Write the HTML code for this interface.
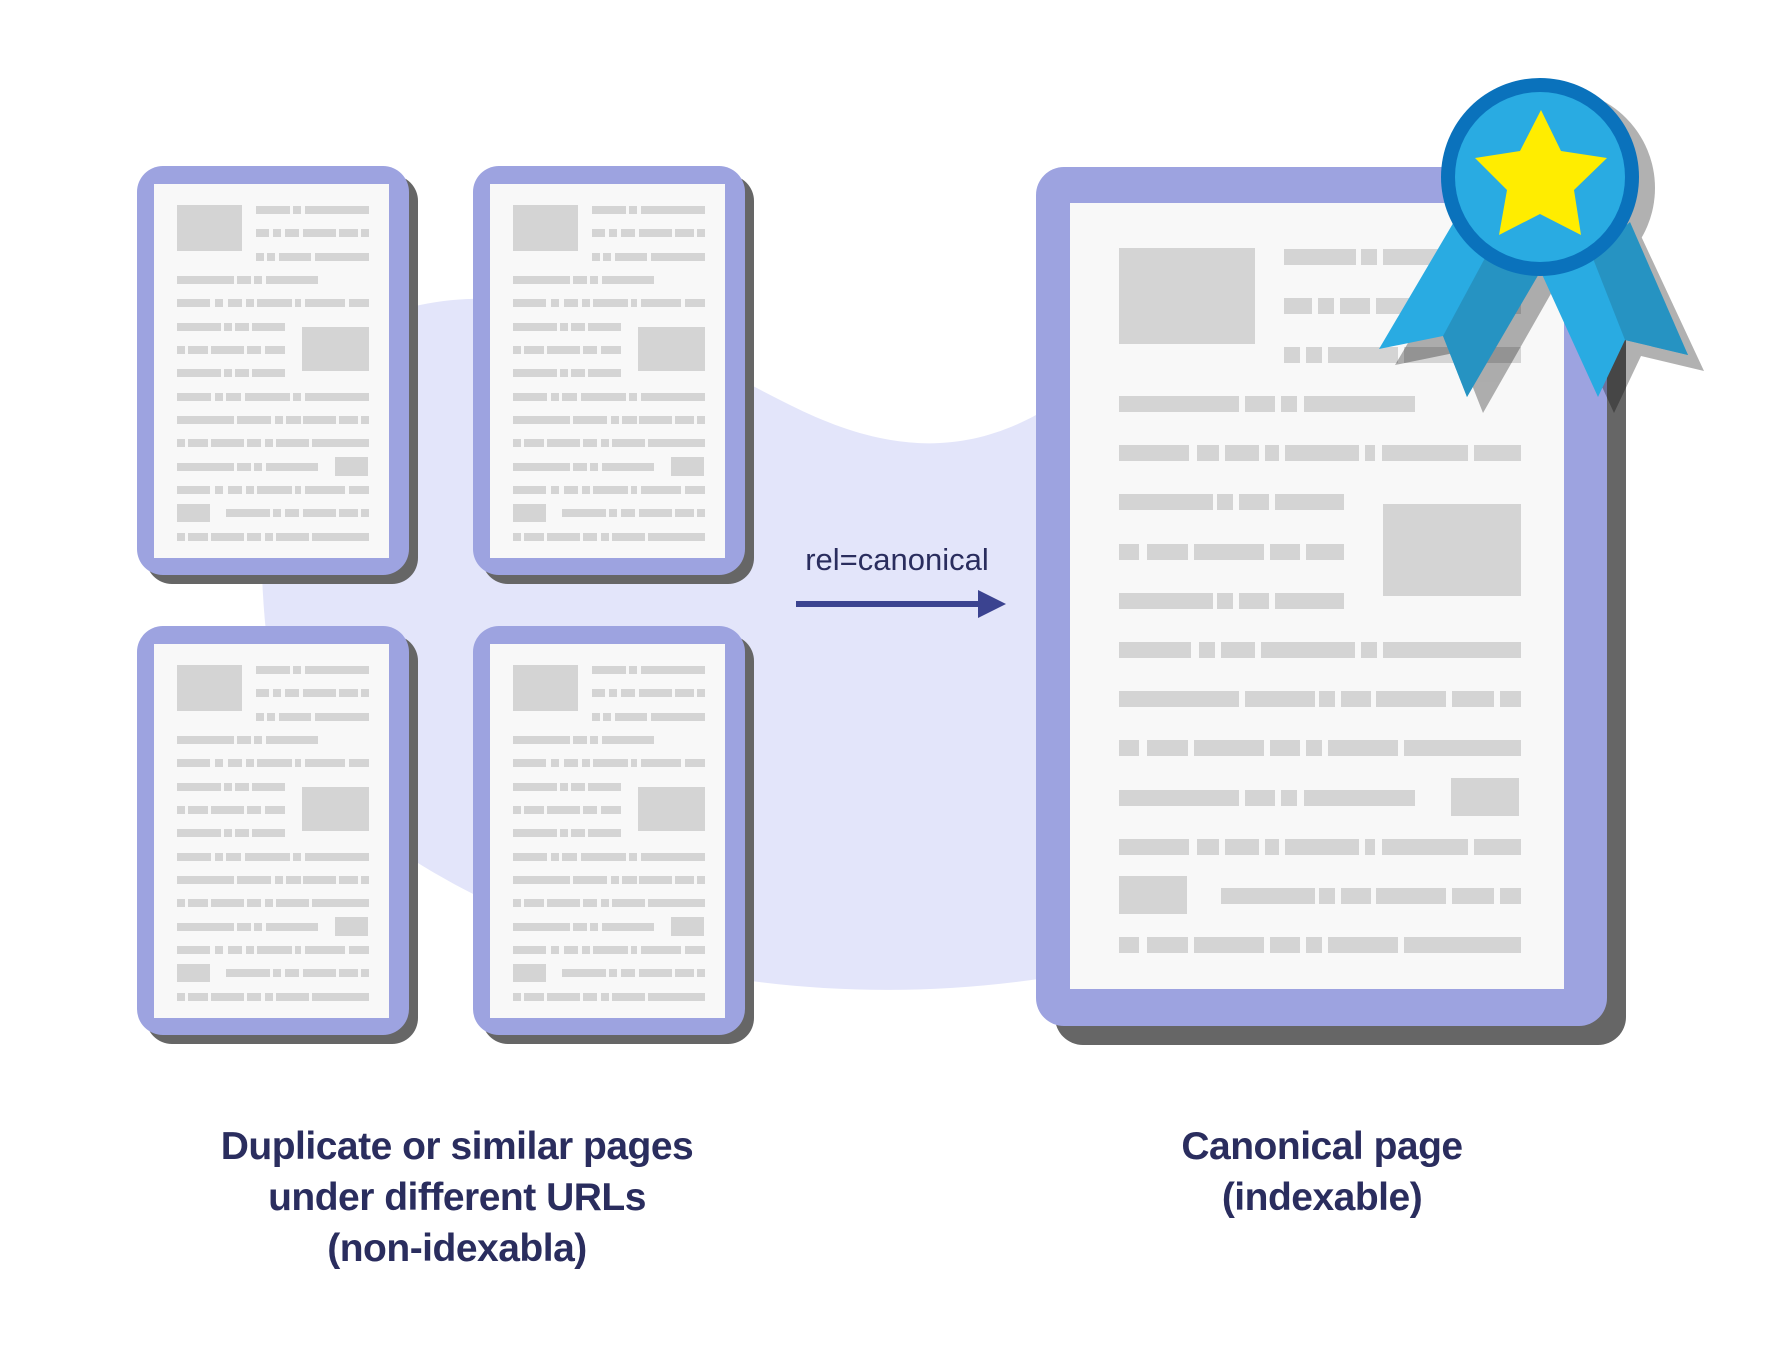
<!DOCTYPE html>
<html><head><meta charset="utf-8"><style>
html,body{margin:0;padding:0;background:#fff;}
svg{display:block;}
</style></head><body>
<svg width="1780" height="1371" viewBox="0 0 1780 1371" xmlns="http://www.w3.org/2000/svg">
<defs>
<g id="sp">
  <rect x="9" y="9" width="272" height="409" rx="26" fill="#666"/>
  <rect x="0" y="0" width="272" height="409" rx="26" fill="#9da3e0"/>
  <rect x="17" y="18" width="235" height="374" fill="#f8f8f8"/>
  <g fill="#d4d4d4">
    <rect x="40" y="39" width="65" height="46"/>
    <rect x="165" y="161" width="67" height="44"/>
    <rect x="198" y="291" width="33" height="19"/>
    <rect x="40" y="338" width="33" height="18"/>
    <rect x="119" y="40" width="34" height="8"/><rect x="156" y="40" width="8" height="8"/><rect x="168" y="40" width="64" height="8"/>
    <rect x="119" y="63" width="13" height="8"/><rect x="136" y="63" width="8" height="8"/><rect x="148" y="63" width="14" height="8"/><rect x="166" y="63" width="33" height="8"/><rect x="202" y="63" width="19" height="8"/><rect x="224" y="63" width="8" height="8"/>
    <rect x="119" y="87" width="8" height="8"/><rect x="130" y="87" width="8" height="8"/><rect x="142" y="87" width="32" height="8"/><rect x="178" y="87" width="54" height="8"/>
    <rect x="40" y="110" width="57" height="8"/><rect x="100" y="110" width="14" height="8"/><rect x="117" y="110" width="8" height="8"/><rect x="129" y="110" width="52" height="8"/>
    <rect x="40" y="133" width="33" height="8"/><rect x="78" y="133" width="8" height="8"/><rect x="91" y="133" width="14" height="8"/><rect x="109" y="133" width="8" height="8"/><rect x="120" y="133" width="35" height="8"/><rect x="158" y="133" width="6" height="8"/><rect x="168" y="133" width="40" height="8"/><rect x="212" y="133" width="20" height="8"/>
    <rect x="40" y="157" width="44" height="8"/><rect x="87" y="157" width="8" height="8"/><rect x="98" y="157" width="14" height="8"/><rect x="115" y="157" width="33" height="8"/>
    <rect x="40" y="180" width="8" height="8"/><rect x="51" y="180" width="20" height="8"/><rect x="74" y="180" width="33" height="8"/><rect x="110" y="180" width="14" height="8"/><rect x="128" y="180" width="20" height="8"/>
    <rect x="40" y="203" width="44" height="8"/><rect x="87" y="203" width="8" height="8"/><rect x="98" y="203" width="14" height="8"/><rect x="115" y="203" width="33" height="8"/>
    <rect x="40" y="227" width="34" height="8"/><rect x="78" y="227" width="8" height="8"/><rect x="89" y="227" width="15" height="8"/><rect x="108" y="227" width="45" height="8"/><rect x="156" y="227" width="8" height="8"/><rect x="168" y="227" width="64" height="8"/>
    <rect x="40" y="250" width="57" height="8"/><rect x="100" y="250" width="34" height="8"/><rect x="138" y="250" width="8" height="8"/><rect x="149" y="250" width="15" height="8"/><rect x="166" y="250" width="33" height="8"/><rect x="202" y="250" width="19" height="8"/><rect x="224" y="250" width="8" height="8"/>
    <rect x="40" y="273" width="8" height="8"/><rect x="51" y="273" width="20" height="8"/><rect x="74" y="273" width="33" height="8"/><rect x="110" y="273" width="14" height="8"/><rect x="128" y="273" width="8" height="8"/><rect x="139" y="273" width="33" height="8"/><rect x="175" y="273" width="57" height="8"/>
    <rect x="40" y="297" width="57" height="8"/><rect x="100" y="297" width="14" height="8"/><rect x="117" y="297" width="8" height="8"/><rect x="129" y="297" width="52" height="8"/>
    <rect x="40" y="320" width="33" height="8"/><rect x="78" y="320" width="8" height="8"/><rect x="91" y="320" width="14" height="8"/><rect x="109" y="320" width="8" height="8"/><rect x="120" y="320" width="35" height="8"/><rect x="158" y="320" width="6" height="8"/><rect x="168" y="320" width="40" height="8"/><rect x="212" y="320" width="20" height="8"/>
    <rect x="89" y="343" width="44" height="8"/><rect x="136" y="343" width="8" height="8"/><rect x="148" y="343" width="14" height="8"/><rect x="166" y="343" width="33" height="8"/><rect x="202" y="343" width="19" height="8"/><rect x="224" y="343" width="8" height="8"/>
    <rect x="40" y="367" width="8" height="8"/><rect x="51" y="367" width="20" height="8"/><rect x="74" y="367" width="33" height="8"/><rect x="110" y="367" width="14" height="8"/><rect x="128" y="367" width="8" height="8"/><rect x="139" y="367" width="33" height="8"/><rect x="175" y="367" width="57" height="8"/>
  </g>
</g>
</defs>

<path d="M262 575 C255 470 300 330 420 305 C560 275 700 360 790 405 C880 450 960 460 1045 410 L1045 978 C900 1000 760 990 640 960 C540 930 420 880 320 790 C275 730 265 650 262 575 Z" fill="#e3e5fa"/>

<use href="#sp" x="137" y="166"/>
<use href="#sp" x="473" y="166"/>
<use href="#sp" x="137" y="626"/>
<use href="#sp" x="473" y="626"/>

<text x="897" y="570" text-anchor="middle" font-family="Liberation Sans, sans-serif" font-size="31" fill="#2a2d5e">rel=canonical</text>
<rect x="796" y="601" width="190" height="6" fill="#3b4390"/>
<polygon points="978,590 1006,604 978,618" fill="#3b4390"/>

<g transform="translate(-6,-1)">
<rect x="1061" y="187" width="571" height="859" rx="28" fill="#666"/>
<rect x="1042" y="168" width="571" height="859" rx="28" fill="#9da3e0"/>
<rect x="1076" y="204" width="494" height="786" fill="#f8f8f8"/>
<g fill="#d4d4d4">
  <rect x="1125" y="249" width="136" height="96"/>
  <rect x="1389" y="505" width="138" height="92"/>
  <rect x="1457" y="779" width="68" height="38"/>
  <rect x="1125" y="877" width="68" height="38"/>
  <rect x="1290" y="250" width="72" height="16"/><rect x="1367" y="250" width="16" height="16"/><rect x="1389" y="250" width="138" height="16"/>
  <rect x="1290" y="299" width="28" height="16"/><rect x="1324" y="299" width="16" height="16"/><rect x="1346" y="299" width="30" height="16"/><rect x="1382" y="299" width="70" height="16"/><rect x="1458" y="299" width="42" height="16"/><rect x="1506" y="299" width="21" height="16"/>
  <rect x="1290" y="348" width="16" height="16"/><rect x="1312" y="348" width="16" height="16"/><rect x="1334" y="348" width="70" height="16"/><rect x="1410" y="348" width="117" height="16"/>
  <rect x="1125" y="397" width="120" height="16"/><rect x="1251" y="397" width="30" height="16"/><rect x="1287" y="397" width="16" height="16"/><rect x="1310" y="397" width="111" height="16"/>
  <rect x="1125" y="446" width="70" height="16"/><rect x="1203" y="446" width="22" height="16"/><rect x="1231" y="446" width="34" height="16"/><rect x="1271" y="446" width="14" height="16"/><rect x="1291" y="446" width="74" height="16"/><rect x="1371" y="446" width="10" height="16"/><rect x="1388" y="446" width="86" height="16"/><rect x="1480" y="446" width="47" height="16"/>
  <rect x="1125" y="495" width="94" height="16"/><rect x="1223" y="495" width="16" height="16"/><rect x="1245" y="495" width="30" height="16"/><rect x="1281" y="495" width="69" height="16"/>
  <rect x="1125" y="545" width="20" height="16"/><rect x="1153" y="545" width="41" height="16"/><rect x="1200" y="545" width="70" height="16"/><rect x="1276" y="545" width="30" height="16"/><rect x="1312" y="545" width="38" height="16"/>
  <rect x="1125" y="594" width="94" height="16"/><rect x="1223" y="594" width="16" height="16"/><rect x="1245" y="594" width="30" height="16"/><rect x="1281" y="594" width="69" height="16"/>
  <rect x="1125" y="643" width="72" height="16"/><rect x="1205" y="643" width="16" height="16"/><rect x="1227" y="643" width="34" height="16"/><rect x="1267" y="643" width="94" height="16"/><rect x="1367" y="643" width="16" height="16"/><rect x="1389" y="643" width="138" height="16"/>
  <rect x="1125" y="692" width="120" height="16"/><rect x="1251" y="692" width="70" height="16"/><rect x="1325" y="692" width="16" height="16"/><rect x="1347" y="692" width="30" height="16"/><rect x="1382" y="692" width="70" height="16"/><rect x="1458" y="692" width="42" height="16"/><rect x="1506" y="692" width="21" height="16"/>
  <rect x="1125" y="741" width="20" height="16"/><rect x="1153" y="741" width="41" height="16"/><rect x="1200" y="741" width="70" height="16"/><rect x="1276" y="741" width="30" height="16"/><rect x="1312" y="741" width="16" height="16"/><rect x="1334" y="741" width="70" height="16"/><rect x="1410" y="741" width="117" height="16"/>
  <rect x="1125" y="791" width="120" height="16"/><rect x="1251" y="791" width="30" height="16"/><rect x="1287" y="791" width="16" height="16"/><rect x="1310" y="791" width="111" height="16"/>
  <rect x="1125" y="840" width="70" height="16"/><rect x="1203" y="840" width="22" height="16"/><rect x="1231" y="840" width="34" height="16"/><rect x="1271" y="840" width="14" height="16"/><rect x="1291" y="840" width="74" height="16"/><rect x="1371" y="840" width="10" height="16"/><rect x="1388" y="840" width="86" height="16"/><rect x="1480" y="840" width="47" height="16"/>
  <rect x="1227" y="889" width="94" height="16"/><rect x="1325" y="889" width="16" height="16"/><rect x="1347" y="889" width="30" height="16"/><rect x="1382" y="889" width="70" height="16"/><rect x="1458" y="889" width="42" height="16"/><rect x="1506" y="889" width="21" height="16"/>
  <rect x="1125" y="938" width="20" height="16"/><rect x="1153" y="938" width="41" height="16"/><rect x="1200" y="938" width="70" height="16"/><rect x="1276" y="938" width="30" height="16"/><rect x="1312" y="938" width="16" height="16"/><rect x="1334" y="938" width="70" height="16"/><rect x="1410" y="938" width="117" height="16"/>
</g>
</g>

<g fill="#000" opacity="0.3">
  <circle cx="1556" cy="188" r="99"/>
  <polygon points="1471,236 1395,365 1459,352 1483,413 1561,276"/>
  <polygon points="1556,286 1614,413 1641,356 1704,371 1641,236"/>
</g>
<polygon points="1455,220 1379,349 1443,336 1467,397 1545,260" fill="#29abe2"/>
<polygon points="1485,258 1443,336 1467,397 1540,272" fill="#2693c2"/>
<polygon points="1540,270 1598,397 1625,340 1688,355 1625,220" fill="#29abe2"/>
<polygon points="1592,256 1625,340 1688,355 1630,222" fill="#2693c2"/>
<circle cx="1540" cy="177" r="99" fill="#0a72bc"/>
<circle cx="1540" cy="177" r="85" fill="#29abe2"/>
<polygon points="1541,110 1561,151 1607,158 1574,190 1581,235 1540,214 1499,235 1507,190 1475,158 1520,151" fill="#ffed00"/>

<g font-family="Liberation Sans, sans-serif" font-weight="bold" font-size="39" fill="#2a2d5e" text-anchor="middle" letter-spacing="-0.5">
  <text x="457" y="1159">Duplicate or similar pages</text>
  <text x="457" y="1210">under different URLs</text>
  <text x="457" y="1261">(non-idexabla)</text>
  <text x="1322" y="1159">Canonical page</text>
  <text x="1322" y="1210">(indexable)</text>
</g>
</svg>
</body></html>
